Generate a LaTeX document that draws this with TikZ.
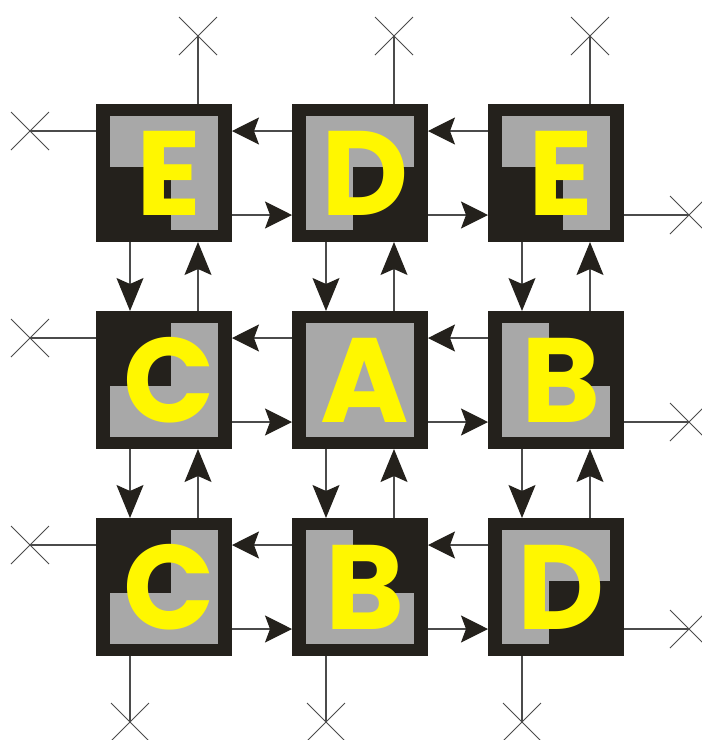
\documentclass[tikz,border=0pt]{standalone}
\usepackage{fontspec}
\setmainfont{Poppins}
\usetikzlibrary{arrows.meta,shapes.misc}
\definecolor{dk}{RGB}{36,33,28}
\definecolor{gy}{RGB}{168,168,168}
\definecolor{yl}{RGB}{255,247,0}
\definecolor{ln}{RGB}{75,75,75}
\newcommand\pqE{\fill[dk] (14,63) rectangle (75,126);}
\newcommand\pqD{\fill[dk] (61,63) rectangle (122,126);}
\newcommand\pqC{\fill[dk] (14,12) rectangle (75,75);}
\newcommand\pqB{\fill[dk] (61,12) rectangle (122,75);}
\newcommand\pqA{}
\begin{document}
\begin{tikzpicture}[x=1pt,y=-1pt,
  cell/.style={rectangle,fill=dk,minimum width=136pt,minimum height=138pt,inner sep=0pt,outer sep=0pt},
  ltr/.style={text=yl,inner sep=0pt,font=\fontsize{120}{120}\selectfont\bfseries},
  xm/.style={cross out,draw=ln,line width=1pt,minimum size=37pt,inner sep=0pt},
  lnk/.style={draw=ln,line width=1.2pt},
  harr/.style={lnk,-{Stealth[length=27pt,width=27pt,inset=5pt,color=dk]}},
  varr/.style={lnk,-{Stealth[length=33pt,width=27pt,inset=6pt,color=dk]}}]
\useasboundingbox (0,0) rectangle (702,740);
\foreach \n/\x/\y/\t in {c11/164/173/E,c12/360/173/D,c13/556/173/E,
                        c21/164/380/C,c22/360/380/A,c23/556/380/B,
                        c31/164/587/C,c32/360/587/B,c33/556/587/D}{
  \node[cell] (\n) at (\x,\y) {};
  \begin{scope}[shift={(\n.north west)}]
    \fill[gy] (14,12) rectangle (122,126);
    \csname pq\t\endcsname
    \node[ltr] (l\n) at (73,69) {\t};
  \end{scope}
}
% horizontal links
\foreach \a/\b in {c11/c12,c12/c13,c21/c22,c22/c23,c31/c32,c32/c33}{
  \draw[harr] ([yshift=-27pt]\b.north west) -- ([yshift=-27pt]\a.north east);
  \draw[harr] ([yshift=27pt]\a.south east) -- ([yshift=27pt]\b.south west);
}
% vertical links
\foreach \a/\b in {c11/c21,c12/c22,c13/c23,c21/c31,c22/c32,c23/c33}{
  \draw[varr] ([xshift=34pt]\a.south west) -- ([xshift=34pt]\b.north west);
  \draw[varr] ([xshift=-34pt]\b.north east) -- ([xshift=-34pt]\a.south east);
}
% boundary stubs
\node[xm] (xt1) at (198,36) {};
\node[xm] (xt2) at (394,36) {};
\node[xm] (xt3) at (590,36) {};
\node[xm] (xl1) at (30,131) {};
\node[xm] (xl2) at (30,338) {};
\node[xm] (xl3) at (30,545) {};
\node[xm] (xr1) at (689,215) {};
\node[xm] (xr2) at (689,422) {};
\node[xm] (xr3) at (689,629) {};
\node[xm] (xb1) at (130,722) {};
\node[xm] (xb2) at (326,722) {};
\node[xm] (xb3) at (522,722) {};
\draw[lnk] (xt1 |- c11.north) -- (xt1.center);
\draw[lnk] (xt2 |- c12.north) -- (xt2.center);
\draw[lnk] (xt3 |- c13.north) -- (xt3.center);
\draw[lnk] (xl1 -| c11.west) -- (xl1.center);
\draw[lnk] (xl2 -| c21.west) -- (xl2.center);
\draw[lnk] (xl3 -| c31.west) -- (xl3.center);
\draw[lnk] (xr1 -| c13.east) -- (xr1.center);
\draw[lnk] (xr2 -| c23.east) -- (xr2.center);
\draw[lnk] (xr3 -| c33.east) -- (xr3.center);
\draw[lnk] (xb1 |- c31.south) -- (xb1.center);
\draw[lnk] (xb2 |- c32.south) -- (xb2.center);
\draw[lnk] (xb3 |- c33.south) -- (xb3.center);
\end{tikzpicture}
\end{document}
